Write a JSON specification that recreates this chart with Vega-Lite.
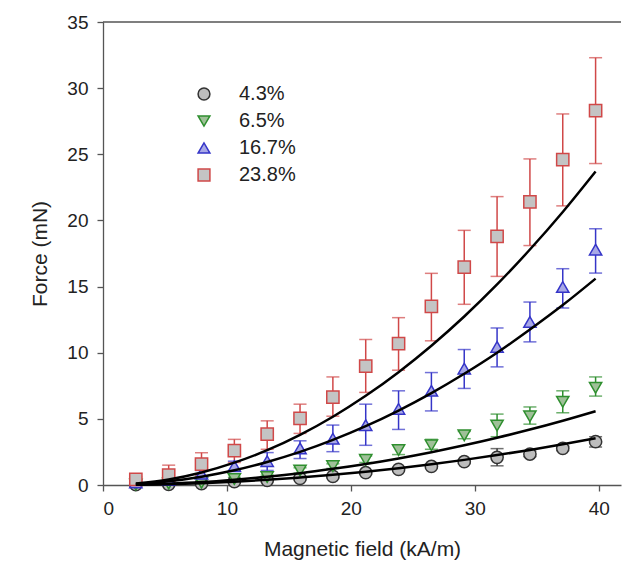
{
  "$schema": "https://vega.github.io/schema/vega-lite/v6.json",
  "autosize": {"type": "none"},
  "width": 518,
  "height": 463,
  "padding": {"left": 103, "top": 22, "right": 1, "bottom": 92},
  "background": "white",
  "config": {
    "view": {"stroke": null},
    "font": "Liberation Sans",
    "axis": {
      "grid": false,
      "domainColor": "#555555",
      "domainWidth": 1.3,
      "tickColor": "#555555",
      "tickWidth": 1.3,
      "tickSize": 6,
      "labelFont": "Liberation Sans",
      "labelFontSize": 19,
      "labelColor": "#222222",
      "titleFont": "Liberation Sans",
      "titleFontSize": 21,
      "titleFontWeight": "normal",
      "titleColor": "#222222"
    },
    "legend": {
      "orient": "none",
      "legendX": 91,
      "legendY": 62,
      "labelFont": "Liberation Sans",
      "labelFontSize": 20,
      "labelColor": "#222222",
      "labelOffset": 25,
      "symbolSize": 140,
      "symbolStrokeWidth": 1.5,
      "rowPadding": 7,
      "padding": 0
    }
  },
  "datasets": {
    "obs": [
      {"series": "4.3%", "x": 2.65, "y": 0.02, "lo": 0.0, "hi": 0.08},
      {"series": "4.3%", "x": 5.3, "y": 0.05, "lo": 0.0, "hi": 0.12},
      {"series": "4.3%", "x": 7.95, "y": 0.1, "lo": 0.02, "hi": 0.18},
      {"series": "4.3%", "x": 10.6, "y": 0.25, "lo": 0.15, "hi": 0.35},
      {"series": "4.3%", "x": 13.25, "y": 0.35, "lo": 0.25, "hi": 0.45},
      {"series": "4.3%", "x": 15.9, "y": 0.5, "lo": 0.4, "hi": 0.6},
      {"series": "4.3%", "x": 18.55, "y": 0.65, "lo": 0.55, "hi": 0.75},
      {"series": "4.3%", "x": 21.2, "y": 0.93, "lo": 0.82, "hi": 1.04},
      {"series": "4.3%", "x": 23.85, "y": 1.18, "lo": 1.06, "hi": 1.3},
      {"series": "4.3%", "x": 26.5, "y": 1.4, "lo": 1.28, "hi": 1.52},
      {"series": "4.3%", "x": 29.15, "y": 1.76, "lo": 1.62, "hi": 1.9},
      {"series": "4.3%", "x": 31.8, "y": 2.09, "lo": 1.45, "hi": 2.75},
      {"series": "4.3%", "x": 34.45, "y": 2.34, "lo": 2.15, "hi": 2.55},
      {"series": "4.3%", "x": 37.1, "y": 2.77, "lo": 2.6, "hi": 2.95},
      {"series": "4.3%", "x": 39.75, "y": 3.27, "lo": 2.87, "hi": 3.65},

      {"series": "6.5%", "x": 2.65, "y": 0.03, "lo": 0.0, "hi": 0.08},
      {"series": "6.5%", "x": 5.3, "y": 0.1, "lo": 0.02, "hi": 0.18},
      {"series": "6.5%", "x": 7.95, "y": 0.17, "lo": 0.07, "hi": 0.27},
      {"series": "6.5%", "x": 10.6, "y": 0.45, "lo": 0.32, "hi": 0.58},
      {"series": "6.5%", "x": 13.25, "y": 0.6, "lo": 0.45, "hi": 0.75},
      {"series": "6.5%", "x": 15.9, "y": 1.1, "lo": 0.9, "hi": 1.3},
      {"series": "6.5%", "x": 18.55, "y": 1.43, "lo": 1.25, "hi": 1.6},
      {"series": "6.5%", "x": 21.2, "y": 1.9, "lo": 1.7, "hi": 2.2},
      {"series": "6.5%", "x": 23.85, "y": 2.64, "lo": 2.3, "hi": 3.0},
      {"series": "6.5%", "x": 26.5, "y": 3.0, "lo": 2.7, "hi": 3.45},
      {"series": "6.5%", "x": 29.15, "y": 3.75, "lo": 3.5, "hi": 4.05},
      {"series": "6.5%", "x": 31.8, "y": 4.5, "lo": 3.65, "hi": 5.36},
      {"series": "6.5%", "x": 34.45, "y": 5.2, "lo": 4.6, "hi": 5.9},
      {"series": "6.5%", "x": 37.1, "y": 6.29, "lo": 5.46, "hi": 7.12},
      {"series": "6.5%", "x": 39.75, "y": 7.35, "lo": 6.72, "hi": 8.17},

      {"series": "16.7%", "x": 2.65, "y": 0.2, "lo": 0.1, "hi": 0.3},
      {"series": "16.7%", "x": 5.3, "y": 0.38, "lo": 0.25, "hi": 0.5},
      {"series": "16.7%", "x": 7.95, "y": 0.85, "lo": 0.6, "hi": 1.1},
      {"series": "16.7%", "x": 10.6, "y": 1.43, "lo": 1.1, "hi": 1.8},
      {"series": "16.7%", "x": 13.25, "y": 1.8, "lo": 1.1, "hi": 2.45},
      {"series": "16.7%", "x": 15.9, "y": 2.77, "lo": 2.0, "hi": 3.34},
      {"series": "16.7%", "x": 18.55, "y": 3.5, "lo": 2.52, "hi": 4.53},
      {"series": "16.7%", "x": 21.2, "y": 4.53, "lo": 3.0, "hi": 6.11},
      {"series": "16.7%", "x": 23.85, "y": 5.75, "lo": 4.2, "hi": 7.12},
      {"series": "16.7%", "x": 26.5, "y": 7.12, "lo": 5.6, "hi": 8.5},
      {"series": "16.7%", "x": 29.15, "y": 8.8, "lo": 7.3, "hi": 10.24},
      {"series": "16.7%", "x": 31.8, "y": 10.44, "lo": 8.93, "hi": 11.87},
      {"series": "16.7%", "x": 34.45, "y": 12.32, "lo": 10.82, "hi": 13.83},
      {"series": "16.7%", "x": 37.1, "y": 14.97, "lo": 13.38, "hi": 16.35},
      {"series": "16.7%", "x": 39.75, "y": 17.79, "lo": 16.02, "hi": 19.37},

      {"series": "23.8%", "x": 2.65, "y": 0.43, "lo": 0.2, "hi": 0.6},
      {"series": "23.8%", "x": 5.3, "y": 0.75, "lo": 0.1, "hi": 1.5},
      {"series": "23.8%", "x": 7.95, "y": 1.58, "lo": 0.7, "hi": 2.44},
      {"series": "23.8%", "x": 10.6, "y": 2.59, "lo": 1.7, "hi": 3.45},
      {"series": "23.8%", "x": 13.25, "y": 3.85, "lo": 2.7, "hi": 4.85},
      {"series": "23.8%", "x": 15.9, "y": 5.03, "lo": 3.9, "hi": 6.11},
      {"series": "23.8%", "x": 18.55, "y": 6.65, "lo": 5.2, "hi": 8.17},
      {"series": "23.8%", "x": 21.2, "y": 8.98, "lo": 7.0, "hi": 11.0},
      {"series": "23.8%", "x": 23.85, "y": 10.69, "lo": 8.68, "hi": 12.65},
      {"series": "23.8%", "x": 26.5, "y": 13.5, "lo": 10.9, "hi": 16.0},
      {"series": "23.8%", "x": 29.15, "y": 16.47, "lo": 13.66, "hi": 19.25},
      {"series": "23.8%", "x": 31.8, "y": 18.8, "lo": 15.77, "hi": 21.8},
      {"series": "23.8%", "x": 34.45, "y": 21.4, "lo": 18.1, "hi": 24.65},
      {"series": "23.8%", "x": 37.1, "y": 24.6, "lo": 21.1, "hi": 28.05},
      {"series": "23.8%", "x": 39.75, "y": 28.3, "lo": 24.3, "hi": 32.3}
    ],
    "fit": [
      {"series": "4.3%", "x": 2.65, "y": 0.016}, {"series": "4.3%", "x": 5.3, "y": 0.063}, {"series": "4.3%", "x": 7.95, "y": 0.14},
      {"series": "4.3%", "x": 10.6, "y": 0.25}, {"series": "4.3%", "x": 13.25, "y": 0.39}, {"series": "4.3%", "x": 15.9, "y": 0.57},
      {"series": "4.3%", "x": 18.55, "y": 0.77}, {"series": "4.3%", "x": 21.2, "y": 1.01}, {"series": "4.3%", "x": 23.85, "y": 1.27},
      {"series": "4.3%", "x": 26.5, "y": 1.57}, {"series": "4.3%", "x": 29.15, "y": 1.9}, {"series": "4.3%", "x": 31.8, "y": 2.26},
      {"series": "4.3%", "x": 34.45, "y": 2.65}, {"series": "4.3%", "x": 37.1, "y": 3.08}, {"series": "4.3%", "x": 39.75, "y": 3.53},

      {"series": "6.5%", "x": 2.65, "y": 0.025}, {"series": "6.5%", "x": 5.3, "y": 0.1}, {"series": "6.5%", "x": 7.95, "y": 0.22},
      {"series": "6.5%", "x": 10.6, "y": 0.4}, {"series": "6.5%", "x": 13.25, "y": 0.62}, {"series": "6.5%", "x": 15.9, "y": 0.89},
      {"series": "6.5%", "x": 18.55, "y": 1.22}, {"series": "6.5%", "x": 21.2, "y": 1.59}, {"series": "6.5%", "x": 23.85, "y": 2.01},
      {"series": "6.5%", "x": 26.5, "y": 2.48}, {"series": "6.5%", "x": 29.15, "y": 3.0}, {"series": "6.5%", "x": 31.8, "y": 3.57},
      {"series": "6.5%", "x": 34.45, "y": 4.19}, {"series": "6.5%", "x": 37.1, "y": 4.86}, {"series": "6.5%", "x": 39.75, "y": 5.58},

      {"series": "16.7%", "x": 2.65, "y": 0.07}, {"series": "16.7%", "x": 5.3, "y": 0.28}, {"series": "16.7%", "x": 7.95, "y": 0.63},
      {"series": "16.7%", "x": 10.6, "y": 1.11}, {"series": "16.7%", "x": 13.25, "y": 1.74}, {"series": "16.7%", "x": 15.9, "y": 2.5},
      {"series": "16.7%", "x": 18.55, "y": 3.41}, {"series": "16.7%", "x": 21.2, "y": 4.45}, {"series": "16.7%", "x": 23.85, "y": 5.63},
      {"series": "16.7%", "x": 26.5, "y": 6.95}, {"series": "16.7%", "x": 29.15, "y": 8.41}, {"series": "16.7%", "x": 31.8, "y": 10.0},
      {"series": "16.7%", "x": 34.45, "y": 11.75}, {"series": "16.7%", "x": 37.1, "y": 13.6}, {"series": "16.7%", "x": 39.75, "y": 15.6},

      {"series": "23.8%", "x": 2.65, "y": 0.105}, {"series": "23.8%", "x": 5.3, "y": 0.42}, {"series": "23.8%", "x": 7.95, "y": 0.95},
      {"series": "23.8%", "x": 10.6, "y": 1.69}, {"series": "23.8%", "x": 13.25, "y": 2.63}, {"series": "23.8%", "x": 15.9, "y": 3.79},
      {"series": "23.8%", "x": 18.55, "y": 5.16}, {"series": "23.8%", "x": 21.2, "y": 6.74}, {"series": "23.8%", "x": 23.85, "y": 8.53},
      {"series": "23.8%", "x": 26.5, "y": 10.53}, {"series": "23.8%", "x": 29.15, "y": 12.74}, {"series": "23.8%", "x": 31.8, "y": 15.16},
      {"series": "23.8%", "x": 34.45, "y": 17.8}, {"series": "23.8%", "x": 37.1, "y": 20.64}, {"series": "23.8%", "x": 39.75, "y": 23.7}
    ]
  },
  "encoding": {
    "x": {
      "field": "x", "type": "quantitative",
      "scale": {"domain": [0, 41.8], "nice": false, "zero": false},
      "axis": {"values": [0, 10, 20, 30, 40], "title": "Magnetic field (kA/m)", "labelPadding": 8, "titlePadding": 20}
    },
    "y": {
      "field": "y", "type": "quantitative",
      "scale": {"domain": [0, 35], "nice": false},
      "axis": {"values": [0, 5, 10, 15, 20, 25, 30, 35], "title": "Force (mN)", "labelPadding": 9, "titlePadding": 16}
    }
  },
  "layer": [
    {
      "data": {"values": [{"top": 35}]},
      "mark": {"type": "rule", "color": "#555555", "strokeWidth": 1.3},
      "encoding": {"x": null, "y": {"field": "top", "type": "quantitative"}}
    },
    {
      "data": {"name": "obs"},
      "mark": {"type": "rule", "strokeWidth": 1.5},
      "encoding": {
        "y": {"field": "lo", "type": "quantitative"},
        "y2": {"field": "hi"},
        "color": {"field": "series", "type": "nominal", "legend": null,
          "scale": {"range": ["#3535c8", "#d04848", "#333333", "#2f8f2f"]}}
      }
    },
    {
      "data": {"name": "obs"},
      "mark": {"type": "tick", "size": 13, "thickness": 1.5, "orient": "horizontal"},
      "encoding": {
        "y": {"field": "lo", "type": "quantitative"},
        "color": {"field": "series", "type": "nominal", "legend": null}
      }
    },
    {
      "data": {"name": "obs"},
      "mark": {"type": "tick", "size": 13, "thickness": 1.5, "orient": "horizontal"},
      "encoding": {
        "y": {"field": "hi", "type": "quantitative"},
        "color": {"field": "series", "type": "nominal", "legend": null}
      }
    },
    {
      "data": {"name": "obs"},
      "mark": {"type": "point", "filled": true, "size": 150, "strokeWidth": 1.5, "opacity": 1},
      "encoding": {
        "shape": {"field": "series", "type": "nominal",
          "scale": {"domain": ["4.3%", "6.5%", "16.7%", "23.8%"], "range": ["circle", "triangle-down", "triangle-up", "square"]},
          "legend": {"title": null}},
        "fill": {"field": "series", "type": "nominal",
          "scale": {"domain": ["4.3%", "6.5%", "16.7%", "23.8%"], "range": ["#bdbdbd", "#9fc098", "#a8a8e6", "#c4c4c4"]},
          "legend": {"title": null}},
        "stroke": {"field": "series", "type": "nominal",
          "scale": {"domain": ["4.3%", "6.5%", "16.7%", "23.8%"], "range": ["#333333", "#2f8f2f", "#3535c8", "#d04848"]},
          "legend": {"title": null}}
      }
    },
    {
      "data": {"name": "fit"},
      "mark": {"type": "line", "color": "black", "strokeWidth": 2.5, "interpolate": "monotone"},
      "encoding": {"detail": {"field": "series", "type": "nominal"}}
    }
  ]
}
